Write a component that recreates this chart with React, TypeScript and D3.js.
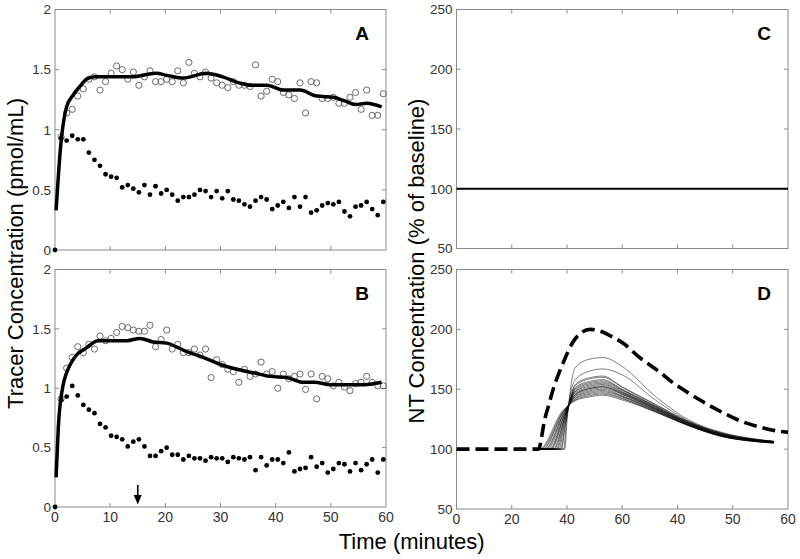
import React from "react";
import * as d3 from "d3";

// ---------------- data ----------------
const timeTicks = [0, 10, 20, 30, 40, 50, 60];
const timeTickLabelsB = ["0", "10", "20", "30", "40", "50", "60"];
const timeTickLabelsD = ["0", "20", "40", "60", "40", "50", "60"];
const tracerTicks = [0, 0.5, 1, 1.5, 2];
const tracerTickLabels = ["0", "0.5", "1", "1.5", "2"];
const ntTicks = [50, 100, 150, 200, 250];
const ntTickLabels = ["50", "100", "150", "200", "250"];

// sampling times (minutes) of the measured points
const sampleTimes = d3.range(60).map((i) => (i === 0 ? 0 : i * 1.007 + 0.1));

// Panel A
const aFilled = [0, 0.93, 0.91, 0.95, 0.92, 0.92, 0.81, 0.75, 0.7, 0.63, 0.61, 0.6, 0.52, 0.54, 0.51, 0.48, 0.54, 0.46, 0.53, 0.47, 0.5, 0.46, 0.41, 0.44, 0.44, 0.46, 0.5, 0.49, 0.44, 0.49, 0.43, 0.49, 0.42, 0.41, 0.38, 0.36, 0.41, 0.44, 0.42, 0.34, 0.37, 0.4, 0.35, 0.44, 0.36, 0.44, 0.31, 0.33, 0.37, 0.39, 0.38, 0.4, 0.32, 0.28, 0.36, 0.37, 0.4, 0.34, 0.29, 0.4];
const aOpen = [0.94, 1.14, 1.17, 1.28, 1.34, 1.42, 1.44, 1.33, 1.4, 1.47, 1.53, 1.5, 1.42, 1.48, 1.37, 1.44, 1.49, 1.4, 1.4, 1.42, 1.4, 1.49, 1.39, 1.56, 1.47, 1.44, 1.48, 1.43, 1.39, 1.37, 1.35, 1.4, 1.37, 1.37, 1.36, 1.54, 1.28, 1.32, 1.42, 1.4, 1.31, 1.29, 1.26, 1.39, 1.14, 1.4, 1.39, 1.26, 1.26, 1.27, 1.22, 1.22, 1.27, 1.31, 1.17, 1.33, 1.12, 1.12, 1.3];
const aFitTimes = [0.2, 1.0, 2.1, 3.3, 4.5, 5.7, 7.2, 10, 14, 18.3, 20.5, 23.3, 27.4, 30.4, 33.4, 35.4, 38.4, 41.4, 44.4, 47.4, 50.5, 52.5, 54.5, 56.5, 59.2];
const aFitValues = [0.33, 0.85, 1.19, 1.29, 1.36, 1.42, 1.44, 1.44, 1.44, 1.47, 1.45, 1.43, 1.47, 1.44, 1.39, 1.37, 1.37, 1.33, 1.33, 1.28, 1.27, 1.24, 1.21, 1.22, 1.19];

// Panel B
const bFilled = [0, 0.9, 0.93, 1.02, 0.94, 0.86, 0.82, 0.79, 0.7, 0.67, 0.6, 0.59, 0.57, 0.51, 0.55, 0.57, 0.51, 0.43, 0.43, 0.47, 0.5, 0.44, 0.44, 0.4, 0.43, 0.41, 0.41, 0.39, 0.42, 0.41, 0.41, 0.38, 0.42, 0.41, 0.4, 0.42, 0.31, 0.42, 0.35, 0.4, 0.4, 0.37, 0.46, 0.3, 0.32, 0.33, 0.42, 0.34, 0.37, 0.29, 0.32, 0.37, 0.36, 0.3, 0.37, 0.31, 0.36, 0.4, 0.29, 0.4];
const bOpen = [0.91, 1.17, 1.26, 1.35, 1.3, 1.37, 1.33, 1.44, 1.4, 1.42, 1.47, 1.52, 1.51, 1.49, 1.48, 1.48, 1.53, 1.35, 1.41, 1.49, 1.33, 1.37, 1.3, 1.3, 1.33, 1.28, 1.33, 1.09, 1.24, 1.2, 1.16, 1.14, 1.05, 1.16, 1.1, 1.12, 1.22, 1.12, 1.14, 1.0, 1.12, 1.08, 1.1, 1.12, 0.99, 1.12, 0.91, 1.1, 1.08, 1.02, 1.05, 1.01, 0.98, 1.04, 1.05, 1.1, 1.05, 1.02, 1.02];
const bFitTimes = [0.2, 0.6, 1.4, 2.1, 3.0, 3.9, 5.7, 7.8, 13, 15.4, 17.8, 20.2, 23.8, 27.4, 30, 33, 36, 39, 42, 45, 47, 50, 53, 56, 59.2];
const bFitValues = [0.25, 0.67, 1.01, 1.13, 1.22, 1.28, 1.34, 1.4, 1.4, 1.42, 1.39, 1.38, 1.31, 1.25, 1.2, 1.16, 1.13, 1.1, 1.09, 1.05, 1.05, 1.03, 1.03, 1.03, 1.05];
const arrowTime = 15;

// Panel C
const cLineTimes = [0, 60];
const cLineValues = [100, 100];

// Panel D
const dDashTimes = [0, 14.9, 15.4, 15.8, 16.7, 17.5, 18.5, 19.3, 20.9, 22.5, 24.2, 26, 28.5, 30.3, 33, 36.3, 39.3, 42.3, 45.2, 48.4, 51.4, 54.4, 57, 60];
const dDashValues = [100, 100, 110, 121, 137, 150, 163, 172, 188, 197, 200, 198.5, 193, 188, 177, 166, 155, 146, 138, 130, 123.5, 119, 116, 114];

const dThinStart = 14.9;
const dThinOnsets = [19.6, 19.4, 19.0, 18.8, 18.5, 18.2, 18.0, 17.7, 17.5, 17.2, 17.0, 16.8, 16.5, 16.2, 16.0, 15.7, 15.5, 15.2, 15.0];
const dThinWaistTimes = [20.0, 19.9, 19.8, 19.8, 19.7, 19.7, 19.6, 19.6, 19.6, 19.5, 19.5, 19.5, 19.4, 19.4, 19.4, 19.3, 19.3, 19.3, 19.2];
const dThinWaistValues = [123, 123.5, 124, 124.5, 125, 125.5, 126, 126.5, 127, 127.5, 128, 128.5, 129, 129.5, 130, 130.5, 131, 131.5, 132];
const dThinTimes = [21.5, 24, 26.5, 30, 36, 42, 48, 54, 57.4];
const dThinValues = [
  [168, 175, 176.5, 169, 144, 124.5, 114, 108.5, 106.5],
  [158, 165, 167, 162, 141, 123.5, 113.5, 108.3, 106.3],
  [154, 159.5, 161, 152, 137.5, 123, 113.2, 108.2, 106.6],
  [153, 158.5, 160, 151.5, 137, 122.8, 113, 108, 106.5],
  [151.5, 156.5, 158, 150, 136.2, 122.4, 112.7, 107.8, 106.3],
  [150.5, 155.5, 157, 149.5, 135.8, 122.1, 112.5, 107.7, 106.2],
  [149.5, 154.5, 156, 149, 135.4, 121.9, 112.4, 107.6, 106.1],
  [148.5, 153.5, 155, 148, 135, 121.7, 112.2, 107.5, 106],
  [148, 152.5, 154, 147.5, 134.6, 121.5, 112, 107.4, 105.9],
  [147, 151.5, 153, 147, 134.2, 121.3, 111.8, 107.2, 105.8],
  [146, 150.5, 152, 146, 133.8, 121, 111.7, 107.1, 105.7],
  [145.5, 150.5, 152, 146.5, 133.6, 120.8, 111.5, 107, 105.7],
  [145, 149.5, 151, 145.5, 133.2, 120.6, 111.3, 106.9, 105.6],
  [144, 148.5, 150, 144.5, 132.8, 120.4, 111.2, 106.8, 105.5],
  [143.5, 147.5, 149, 144, 132.4, 120.2, 111, 106.7, 105.4],
  [142.5, 146.5, 148, 143.5, 132, 120, 110.9, 106.6, 105.3],
  [142, 145.5, 147, 142.5, 131.6, 119.8, 110.7, 106.5, 105.2],
  [141, 144.5, 146, 142, 131.2, 119.6, 110.6, 106.4, 105.1],
  [140.5, 143.5, 145, 141, 131, 119.5, 110.5, 106.3, 105],
];

// ---------------- layout / style ----------------
const W = 800;
const H = 559;
const FONT = "'Liberation Sans', Arial, Helvetica, sans-serif";
const AXIS = "#8a8a8a";
const TEXT = "#333333";

type Box = { left: number; right: number; top: number; bottom: number };
const boxA: Box = { left: 55, right: 386, top: 9.5, bottom: 250 };
const boxB: Box = { left: 55, right: 386, top: 269.5, bottom: 507 };
const boxC: Box = { left: 456.5, right: 788, top: 9.5, bottom: 248.5 };
const boxD: Box = { left: 456.5, right: 788, top: 269.5, bottom: 509 };

type Scale = d3.ScaleLinear<number, number>;

function Frame(props: {
  box: Box;
  x: Scale;
  y: Scale;
  yTicks: number[];
  yLabels: string[];
  xLabels?: string[];
  letter: string;
}) {
  const { box, x, y, yTicks, yLabels, xLabels, letter } = props;
  const tl = 4;
  return (
    <g>
      <rect x={box.left} y={box.top} width={box.right - box.left} height={box.bottom - box.top} fill="none" stroke={AXIS} strokeWidth={1} />
      {timeTicks.slice(1, -1).map((t) => (
        <g key={"xt" + t}>
          <line x1={x(t)} x2={x(t)} y1={box.bottom} y2={box.bottom - tl} stroke={AXIS} />
          <line x1={x(t)} x2={x(t)} y1={box.top} y2={box.top + tl} stroke={AXIS} />
        </g>
      ))}
      {yTicks.slice(1, -1).map((t) => (
        <g key={"yt" + t}>
          <line x1={box.left} x2={box.left + tl} y1={y(t)} y2={y(t)} stroke={AXIS} />
          <line x1={box.right} x2={box.right - tl} y1={y(t)} y2={y(t)} stroke={AXIS} />
        </g>
      ))}
      {yTicks.map((t, i) => (
        <text key={"yl" + t} x={box.left - 4} y={y(t)} dy="0.36em" textAnchor="end" fontSize={13.5} fill={TEXT} fontFamily={FONT}>
          {yLabels[i]}
        </text>
      ))}
      {xLabels &&
        timeTicks.map((t, i) => (
          <text key={"xl" + t} x={x(t)} y={box.bottom + 15} textAnchor="middle" fontSize={14} fill={TEXT} fontFamily={FONT}>
            {xLabels[i]}
          </text>
        ))}
      <text x={box.right - 17} y={box.top + 30} textAnchor="end" fontSize={19} fontWeight="bold" fill="#000" fontFamily={FONT}>
        {letter}
      </text>
    </g>
  );
}

function TracerPanel(props: { box: Box; filled: number[]; open: number[]; fitT: number[]; fitV: number[]; letter: string; xLabels?: string[]; arrow?: number }) {
  const { box, filled, open, fitT, fitV, letter, xLabels, arrow } = props;
  const x = d3.scaleLinear().domain([0, 60]).range([box.left, box.right]);
  const y = d3.scaleLinear().domain([0, 2]).range([box.bottom, box.top]);
  const line = d3
    .line<number>()
    .x((_, i) => x(fitT[i]))
    .y((v) => y(v))
    .curve(d3.curveMonotoneX);
  return (
    <g>
      <Frame box={box} x={x} y={y} yTicks={tracerTicks} yLabels={tracerTickLabels} xLabels={xLabels} letter={letter} />
      {open.map((v, i) => (
        <circle key={"o" + i} cx={x(sampleTimes[i + 1])} cy={y(v)} r={3.1} fill="none" stroke="#5a5a5a" strokeWidth={0.9} />
      ))}
      {filled.map((v, i) => (
        <circle key={"f" + i} cx={x(sampleTimes[i])} cy={y(v)} r={2.4} fill="#000" />
      ))}
      <path d={line(fitV) || ""} fill="none" stroke="#000" strokeWidth={3.5} strokeLinejoin="round" />
      {arrow !== undefined && (
        <g>
          <line x1={x(arrow)} x2={x(arrow)} y1={box.bottom - 22} y2={box.bottom - 10} stroke="#000" strokeWidth={1.6} />
          <path d={`M${x(arrow) - 4},${box.bottom - 12} L${x(arrow) + 4},${box.bottom - 12} L${x(arrow)},${box.bottom - 2.5} Z`} fill="#000" />
        </g>
      )}
    </g>
  );
}

function PanelC() {
  const box = boxC;
  const x = d3.scaleLinear().domain([0, 60]).range([box.left, box.right]);
  const y = d3.scaleLinear().domain([50, 250]).range([box.bottom, box.top]);
  const line = d3
    .line<number>()
    .x((_, i) => x(cLineTimes[i]))
    .y((v) => y(v));
  return (
    <g>
      <Frame box={box} x={x} y={y} yTicks={ntTicks} yLabels={ntTickLabels} letter="C" />
      <path d={line(cLineValues) || ""} fill="none" stroke="#000" strokeWidth={2} />
    </g>
  );
}

function PanelD() {
  const box = boxD;
  const x = d3.scaleLinear().domain([0, 60]).range([box.left, box.right]);
  const y = d3.scaleLinear().domain([50, 250]).range([box.bottom, box.top]);
  const pl = d3
    .line<[number, number]>()
    .x((d) => x(d[0]))
    .y((d) => y(d[1]))
    .curve(d3.curveMonotoneX);
  const dashPts: [number, number][] = dDashTimes.map((t, i) => [t, dDashValues[i]]);
  const thin: [number, number][][] = dThinValues.map((vals, k) => [
    [dThinStart, 100],
    [dThinOnsets[k], 100],
    [dThinWaistTimes[k], dThinWaistValues[k]],
    ...dThinTimes.map((t, i) => [t, vals[i]] as [number, number]),
  ]);
  return (
    <g>
      <Frame box={box} x={x} y={y} yTicks={ntTicks} yLabels={ntTickLabels} xLabels={timeTickLabelsD} letter="D" />
      {thin.map((pts, k) => (
        <path key={"th" + k} d={pl(pts) || ""} fill="none" stroke="#000" strokeWidth={0.5} />
      ))}
      <path d={pl(dashPts) || ""} fill="none" stroke="#000" strokeWidth={3.6} strokeDasharray="13 6" />
    </g>
  );
}

export default function App() {
  return (
    <div style={{ position: "absolute", left: 0, top: 0, width: W, height: H, background: "#fff" }}>
      <svg width={W} height={H} viewBox={`0 0 ${W} ${H}`} style={{ display: "block" }}>
        <rect x={0} y={0} width={W} height={H} fill="#fff" />
        <TracerPanel box={boxA} filled={aFilled} open={aOpen} fitT={aFitTimes} fitV={aFitValues} letter="A" />
        <TracerPanel box={boxB} filled={bFilled} open={bOpen} fitT={bFitTimes} fitV={bFitValues} letter="B" xLabels={timeTickLabelsB} arrow={arrowTime} />
        <PanelC />
        <PanelD />
        <text transform="translate(23,253.5) rotate(-90)" textAnchor="middle" fontSize={22} fill="#000" fontFamily={FONT}>
          Tracer Concentration (pmol/mL)
        </text>
        <text transform="translate(423.5,261) rotate(-90)" textAnchor="middle" fontSize={22} fill="#000" fontFamily={FONT}>
          NT Concentration (% of baseline)
        </text>
        <text x={411.7} y={548.5} textAnchor="middle" fontSize={22} fill="#000" fontFamily={FONT}>
          Time (minutes)
        </text>
      </svg>
    </div>
  );
}
